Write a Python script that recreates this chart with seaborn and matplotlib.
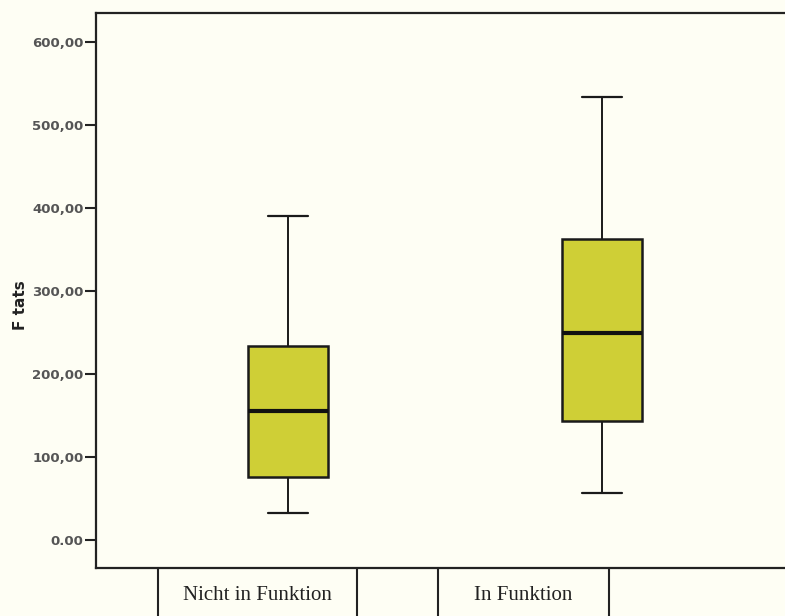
import numpy as np
import pandas as pd
import matplotlib
matplotlib.use("Agg")
import matplotlib.pyplot as plt
import seaborn as sns
from matplotlib.lines import Line2D

# ---- data ----
categories = ["Nicht in Funktion", "In Funktion"]
# five-number summaries: min, Q1, median, Q3, max
nicht_in_funktion = [33, 76, 155, 234, 390]
in_funktion = [57, 144, 249, 363, 534]
y_ticks = [0, 100, 200, 300, 400, 500, 600]
y_tick_labels = ["0.00", "100,00", "200,00", "300,00", "400,00", "500,00", "600,00"]
y_label = "F tats"

df = pd.DataFrame({
    "Gruppe": [categories[0]] * len(nicht_in_funktion) + [categories[1]] * len(in_funktion),
    "F tats": nicht_in_funktion + in_funktion,
})

sns.set_style("white")
bg = "#fefef4"
fig = plt.figure(figsize=(7.85, 6.16), dpi=100, facecolor=bg)
ax = fig.add_axes([96 / 785, 48 / 616, 689 / 785, 555 / 616])
ax.set_facecolor(bg)

sns.boxplot(
    data=df, x="Gruppe", y="F tats", order=categories, ax=ax,
    whis=(0, 100), width=0.255, color="#cfcf36", saturation=1,
    linecolor="#1a1a1a", linewidth=1.4,
    boxprops=dict(linewidth=1.8, edgecolor="#1a1a1a"),
    medianprops=dict(linewidth=3.0, color="#111111"),
    capprops=dict(linewidth=1.6),
)

ax.set_ylim(-33.7, 635)
ax.set_xlim(-0.61, 1.584)
ax.set_yticks(y_ticks)
ax.set_yticklabels(y_tick_labels)
ax.set_xticks([])
ax.set_xlabel("")
ax.set_ylabel(y_label, fontsize=11, fontweight="bold", color="#222222")
ax.yaxis.set_label_coords(-0.098, 0.474)
ax.tick_params(axis="y", direction="out", length=8, width=1.5, color="#222222",
               labelsize=9.5, labelcolor="#555555", pad=1, left=True)
for lab in ax.get_yticklabels():
    lab.set_fontweight("bold")
for s in ["left", "bottom", "top"]:
    ax.spines[s].set_visible(True)
    ax.spines[s].set_linewidth(1.6)
    ax.spines[s].set_color("#222222")
ax.spines["right"].set_visible(False)

# category label cells below the axis
cell_edges = [(158, 357), (438, 609)]
for (x0, x1), cat in zip(cell_edges, categories):
    for xe in (x0, x1):
        fig.add_artist(Line2D([xe / 785, xe / 785], [0, 48 / 616],
                              transform=fig.transFigure, color="#222222", lw=1.5))
    fig.text((x0 + x1) / 2 / 785, 20 / 616, cat, ha="center", va="center",
             fontsize=15, family="Liberation Serif", color="#222222")

fig.savefig("out.png", dpi=100, facecolor=bg)
